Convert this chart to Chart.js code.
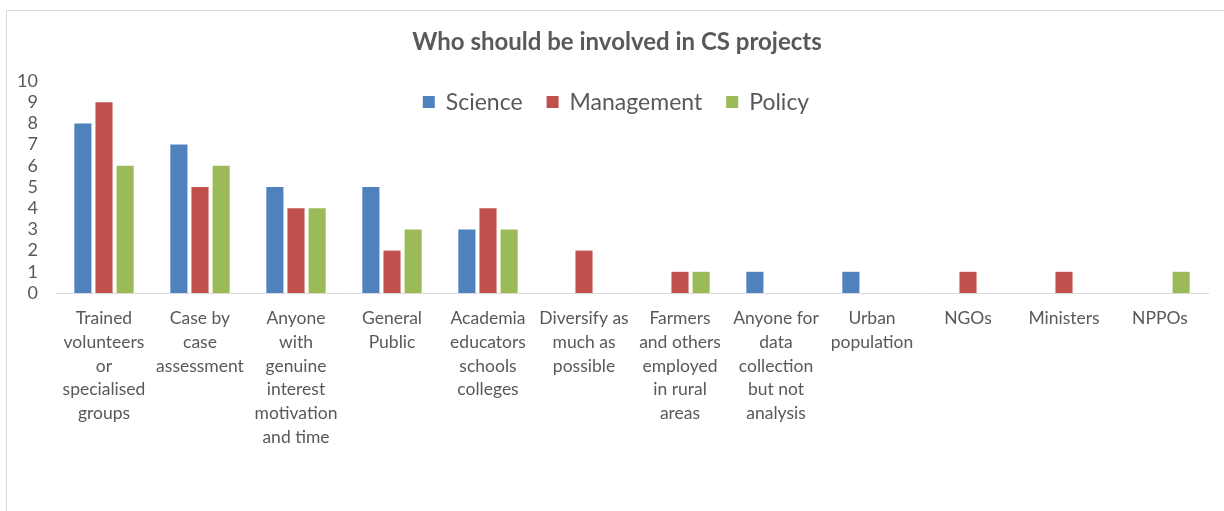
<!DOCTYPE html>
<html>
<head>
<meta charset="utf-8">
<script src="https://cdn.jsdelivr.net/npm/chart.js@4.4.1/dist/chart.umd.min.js"></script>
<style>
  html, body { margin: 0; padding: 0; background: #fff; }
  #wrap { position: relative; width: 1224px; height: 511px; }
  #frame {
    position: absolute; left: 6px; top: 10px; right: 0; bottom: 0;
    border-top: 1px solid #d9d9d9; border-left: 1px solid #d9d9d9;
  }
  #chart { position: absolute; left: 0; top: 0; }
</style>
</head>
<body>
<div id="wrap">
  <div id="frame"></div>
  <canvas id="chart" width="1224" height="511"></canvas>
</div>
<script>
// Groups asked about, one label per category (split over lines)
const categories = [
    ['Trained', 'volunteers', 'or', 'specialised', 'groups'],
    ['Case by', 'case', 'assessment'],
    ['Anyone', 'with', 'genuine', 'interest', 'motivation', 'and time'],
    ['General', 'Public'],
    ['Academia', 'educators', 'schools', 'colleges'],
    ['Diversify as', 'much as', 'possible'],
    ['Farmers', 'and others', 'employed', 'in rural', 'areas'],
    ['Anyone for', 'data', 'collection', 'but not', 'analysis'],
    ['Urban', 'population'],
    ['NGOs'],
    ['Ministers'],
    ['NPPOs']
];

const science    = [8, 7, 5, 5, 3, 0, 0, 1, 1, 0, 0, 0];
const management = [9, 5, 4, 2, 4, 2, 1, 0, 0, 1, 1, 0];
const policy     = [6, 6, 4, 3, 3, 0, 1, 0, 0, 0, 0, 1];

const yTicks = [0, 1, 2, 3, 4, 5, 6, 7, 8, 9, 10];

const chartTitle = 'Who should be involved in CS projects';

const FONT = 'Lato, "Open Sans", sans-serif';
const TEXT = '#595959';

// title and legend are drawn by hand so the legend can sit over the bars
const headerPlugin = {
    id: 'header',
    afterDraw(chart) {
        const ctx = chart.ctx;
        ctx.save();
        ctx.textBaseline = 'middle';

        ctx.font = 'bold 24px ' + FONT;
        ctx.fillStyle = TEXT;
        ctx.textAlign = 'center';
        ctx.fillText(chartTitle, 617, 42);

        const box = 12, gapText = 11, gapItem = 24;
        ctx.font = '23px ' + FONT;
        ctx.textAlign = 'left';
        const items = chart.data.datasets.map(ds => ({
            text: ds.label, color: ds.backgroundColor,
            w: box + gapText + ctx.measureText(ds.label).width
        }));
        const total = items.reduce((s, it) => s + it.w, 0) + gapItem * (items.length - 1);
        let x = 616 - total / 2;
        const y = 102;
        items.forEach(it => {
            ctx.fillStyle = it.color;
            ctx.fillRect(x, y - box / 2, box, box);
            ctx.fillStyle = TEXT;
            ctx.fillText(it.text, x + box + gapText, y + 1);
            x += it.w + gapItem;
        });
        ctx.restore();
    }
};

new Chart(document.getElementById('chart').getContext('2d'), {
    type: 'bar',
    data: {
        labels: categories,
        datasets: [
            { label: 'Science', data: science, backgroundColor: '#4F81BD' },
            { label: 'Management', data: management, backgroundColor: '#C0504D' },
            { label: 'Policy', data: policy, backgroundColor: '#9BBB59' }
        ]
    },
    options: {
        responsive: false,
        animation: false,
        layout: { padding: { left: 0, right: 16, top: 81, bottom: 0 } },
        datasets: {
            bar: { categoryPercentage: 0.66, barPercentage: 0.81 }
        },
        plugins: {
            legend: { display: false },
            tooltip: { enabled: false },
            title: { display: false }
        },
        scales: {
            x: {
                grid: { display: false, drawTicks: false },
                border: { display: true, color: '#d9d9d9', width: 1 },
                ticks: {
                    color: TEXT,
                    font: { family: FONT, size: 17.5, lineHeight: 1.35 },
                    padding: 14,
                    autoSkip: false,
                    maxRotation: 0
                },
                afterFit(scale) { scale.height = 218; }
            },
            y: {
                min: 0,
                max: 10,
                grid: { display: false, drawTicks: false },
                border: { display: false },
                afterBuildTicks(scale) { scale.ticks = yTicks.map(v => ({ value: v })); },
                ticks: {
                    color: TEXT,
                    font: { family: FONT, size: 18 },
                    padding: 18,
                    autoSkip: false
                },
                afterFit(scale) { scale.width = 56; }
            }
        }
    },
    plugins: [headerPlugin]
});
</script>
</body>
</html>
